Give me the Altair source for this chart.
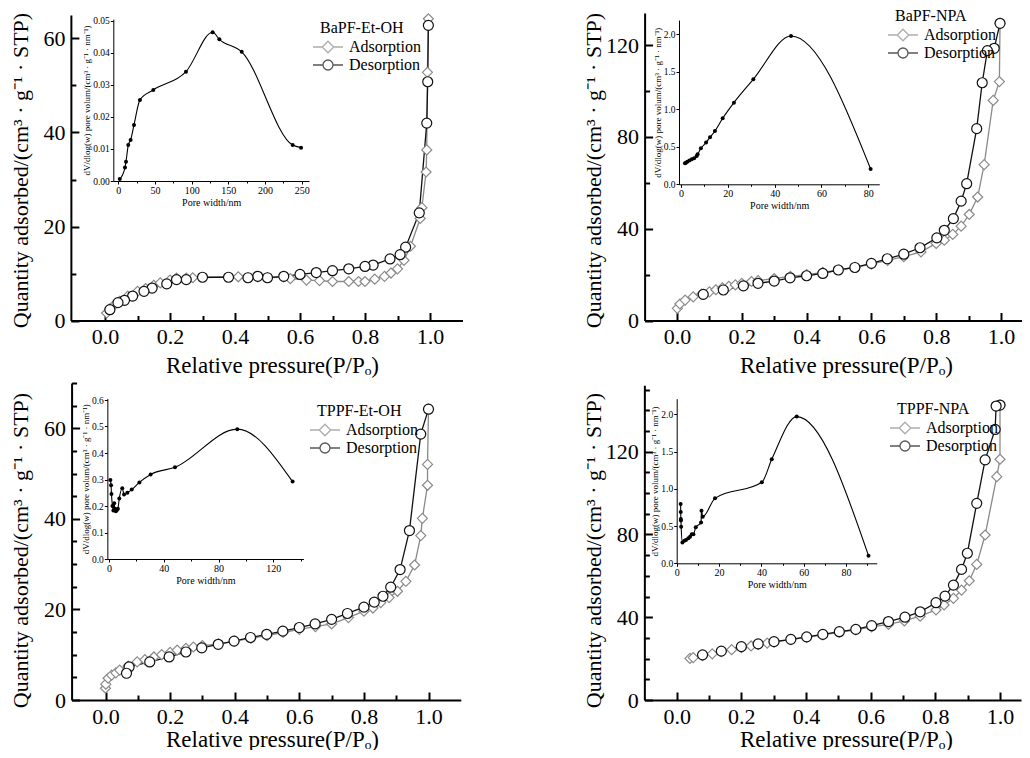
import altair as alt
import pandas as pd

FONT = "Liberation Serif"
SERIES = ["Adsorption", "Desorption"]
NAMES = ["BaPF-Et-OH", "BaPF-NPA", "TPPF-Et-OH", "TPPF-NPA"]
X_TITLE = "Relative pressure(P/Pₒ)"
Y_TITLE = "Quantity adsorbed/(cm³ · g⁻¹ · STP)"
IX_TITLE = "Pore width/nm"
IY_TITLE = "dV/dlog(w) pore volum/(cm³ · g⁻¹ · nm⁻¹)"

X_TICKS = [0.0, 0.1, 0.2, 0.3, 0.4, 0.5, 0.6, 0.7, 0.8, 0.9, 1.0]
X_LABELS = [0.0, 0.2, 0.4, 0.6, 0.8, 1.0]
Y_TICKS_1 = [0, 10, 20, 30, 40, 50, 60]
Y_TICKS_2 = [0, 20, 40, 60, 80, 100, 120]
Y_TICKS_3 = [0, 5, 10, 15, 20, 25, 30, 35, 40, 45, 50, 55, 60, 65, 70]
Y_TICKS_4 = [0, 10, 20, 30, 40, 50, 60, 70, 80, 90, 100, 110, 120, 130, 140, 150]
Y_LABELS_A = [0, 20, 40, 60]
Y_LABELS_B = [0, 40, 80, 120]

# ---------------- BaPF-Et-OH ----------------
A1_P = [0.005, 0.015, 0.03, 0.045, 0.07, 0.10, 0.125, 0.15, 0.17, 0.20, 0.22, 0.25, 0.27, 0.41, 0.44,
        0.47, 0.50, 0.55, 0.57, 0.62, 0.66, 0.70, 0.75, 0.78, 0.80, 0.83, 0.86, 0.88, 0.90, 0.92,
        0.94, 0.97, 0.975, 0.988, 0.99, 0.992, 0.995]
A1_Q = [1.6, 2.5, 3.4, 4.1, 5.2, 6.2, 6.8, 7.5, 8.0, 8.6, 9.0, 9.0, 9.1, 9.3, 9.1,
        9.3, 9.1, 9.3, 8.9, 8.6, 8.5, 8.3, 8.3, 8.3, 8.3, 8.8, 9.4, 10.1, 11.0, 12.8,
        15.8, 21.7, 24.0, 31.6, 36.3, 52.8, 64.2]
D1_P = [0.995, 0.993, 0.99, 0.967, 0.925, 0.908, 0.877, 0.825, 0.80, 0.75, 0.70, 0.65, 0.60, 0.55,
        0.50, 0.47, 0.44, 0.38, 0.30, 0.25, 0.22, 0.19, 0.145, 0.12, 0.085, 0.06, 0.04, 0.015]
D1_Q = [62.8, 50.8, 42.0, 22.9, 15.6, 14.0, 13.1, 11.8, 11.5, 11.0, 10.6, 10.2, 9.8, 9.4,
        9.1, 9.4, 9.1, 9.2, 9.2, 8.7, 8.7, 7.8, 6.9, 6.2, 5.2, 4.3, 3.8, 2.3]
W1 = [2.0, 9.1, 10.5, 13.6, 16.8, 21.4, 29.5, 47.7, 92.3, 128.6, 137.7, 168.2, 237.7, 249.1]
V1 = [0.0006, 0.0042, 0.006, 0.0112, 0.0128, 0.0175, 0.0253, 0.0284, 0.0341, 0.0464, 0.0442,
      0.0403, 0.0112, 0.0104]

# ---------------- BaPF-NPA ----------------
A2_P = [0.001, 0.009, 0.025, 0.05, 0.076, 0.10, 0.12, 0.14, 0.16, 0.18, 0.20, 0.23, 0.25, 0.30, 0.35,
        0.40, 0.45, 0.50, 0.55, 0.60, 0.65, 0.70, 0.753, 0.80, 0.825, 0.851, 0.877, 0.902, 0.928,
        0.948, 0.976, 0.995, 0.997]
A2_Q = [5.3, 7.2, 8.9, 10.3, 11.5, 12.5, 13.4, 14.2, 14.9, 15.5, 16.2, 17.0, 17.4, 18.3, 19.2,
        20.0, 21.0, 22.1, 23.2, 24.6, 26.2, 27.8, 29.9, 33.6, 35.0, 37.5, 41.1, 46.2, 53.8,
        67.9, 95.9, 104.1, 129.5]
D2_P = [0.997, 0.979, 0.958, 0.942, 0.925, 0.894, 0.877, 0.853, 0.825, 0.802, 0.75, 0.70, 0.649,
        0.60, 0.549, 0.498, 0.45, 0.40, 0.349, 0.30, 0.25, 0.205, 0.143, 0.081]
D2_Q = [129.5, 118.6, 117.6, 103.6, 83.6, 59.6, 52.0, 44.4, 39.3, 36.0, 31.7, 28.9, 26.9,
        24.9, 23.1, 22.0, 20.5, 19.5, 18.6, 17.2, 16.2, 15.1, 13.3, 11.4]
W2 = [1.7, 2.1, 2.7, 3.6, 4.6, 5.6, 6.7, 7.1, 8.5, 10.7, 12.4, 14.5, 17.8, 22.6, 30.9, 47.0, 81.0]
V2 = [0.28, 0.289, 0.302, 0.316, 0.333, 0.347, 0.378, 0.40, 0.48, 0.556, 0.627, 0.711, 0.88,
      1.089, 1.40, 1.978, 0.204]

# ---------------- TPPF-Et-OH ----------------
A3_P = [0.0, 0.001, 0.008, 0.019, 0.032, 0.044, 0.07, 0.098, 0.122, 0.15, 0.174, 0.20, 0.222, 0.249,
        0.272, 0.30, 0.35, 0.40, 0.45, 0.50, 0.55, 0.60, 0.65, 0.70, 0.752, 0.80, 0.828, 0.852,
        0.878, 0.904, 0.93, 0.957, 0.976, 0.981, 0.997, 0.997, 1.0]
A3_Q = [2.6, 3.5, 4.8, 5.5, 6.0, 6.6, 7.5, 8.4, 8.9, 9.5, 10.0, 10.5, 11.0, 11.4,
        11.7, 12.0, 12.4, 13.0, 13.6, 14.2, 14.9, 15.6, 16.2, 16.8, 18.2, 19.6, 20.3, 21.5,
        22.6, 24.0, 26.2, 29.8, 36.3, 40.1, 47.4, 52.0, 64.2]
D3_P = [1.0, 0.976, 0.941, 0.912, 0.883, 0.859, 0.832, 0.80, 0.749, 0.70, 0.649, 0.60, 0.549,
        0.499, 0.449, 0.398, 0.349, 0.298, 0.249, 0.197, 0.137, 0.073, 0.065]
D3_Q = [64.2, 58.7, 37.4, 28.8, 24.9, 22.9, 21.6, 20.5, 19.1, 17.8, 16.8, 16.0, 15.2,
        14.5, 13.8, 13.0, 12.3, 11.5, 10.6, 9.5, 8.4, 7.3, 5.9]
W3 = [1.0, 1.5, 1.8, 2.5, 3.2, 3.8, 4.3, 5.0, 5.8, 6.5, 7.5, 9.7, 11.0, 13.4, 16.6, 22.2, 30.4,
      48.2, 93.7, 134.1]
V3 = [0.298, 0.278, 0.245, 0.20, 0.183, 0.21, 0.19, 0.18, 0.185, 0.19, 0.228, 0.267, 0.243, 0.25,
      0.262, 0.289, 0.319, 0.346, 0.49, 0.292]

# ---------------- TPPF-NPA ----------------
A4_P = [0.041, 0.051, 0.08, 0.11, 0.138, 0.17, 0.20, 0.23, 0.252, 0.28, 0.301, 0.353, 0.402, 0.452,
        0.503, 0.554, 0.603, 0.655, 0.704, 0.753, 0.802, 0.827, 0.856, 0.881, 0.905, 0.928, 0.954,
        0.99, 1.0, 1.0]
A4_Q = [20.1, 20.5, 21.4, 22.3, 23.3, 24.3, 25.3, 26.1, 26.7, 27.5, 28.0, 29.2, 30.3, 31.5,
        32.7, 33.9, 35.3, 36.5, 38.2, 40.5, 43.5, 45.9, 49.1, 53.1, 57.6, 65.5, 79.7,
        107.9, 116.3, 142.5]
D4_P = [1.0, 0.988, 0.985, 0.954, 0.928, 0.899, 0.881, 0.856, 0.83, 0.802, 0.753, 0.706, 0.655,
        0.603, 0.554, 0.503, 0.452, 0.402, 0.353, 0.301, 0.252, 0.20, 0.138, 0.08]
D4_Q = [142.5, 142.0, 130.7, 116.0, 95.0, 70.9, 63.1, 55.5, 50.2, 47.0, 42.6, 40.0, 37.9,
        35.9, 34.1, 33.0, 31.7, 30.5, 29.3, 28.2, 27.1, 25.8, 23.6, 21.8]
W4 = [1.85, 1.9, 1.95, 2.0, 2.1, 2.7, 3.6, 4.4, 5.5, 6.3, 7.1, 7.9, 9.0, 11.5, 11.7, 12.3, 18.1,
      40.2, 44.9, 56.7, 90.6]
V4 = [0.796, 0.69, 0.595, 0.573, 0.49, 0.28, 0.304, 0.313, 0.336, 0.358, 0.39, 0.39, 0.483, 0.546,
      0.707, 0.626, 0.872, 1.087, 1.396, 1.969, 0.103]

ISO = [(A1_P, A1_Q, D1_P, D1_Q), (A2_P, A2_Q, D2_P, D2_Q),
       (A3_P, A3_Q, D3_P, D3_Q), (A4_P, A4_Q, D4_P, D4_Q)]
PSD = [(W1, V1), (W2, V2), (W3, V3), (W4, V4)]

# ---------------- layout (page pixels) ----------------
W, H, M = 1014, 742, 8
GRAY = "#8a8a8a"
ADS_PATH = "M-3,0L-1.15,0M1.15,0L3,0M0,-1.15L1.15,0L0,1.15L-1.15,0Z"
DES_PATH = "M-3,0L-1,0M1,0L3,0M-1,0A1,1,0,1,0,1,0A1,1,0,1,0,-1,0Z"

MAIN = [
    dict(x0=105.0, kx=325.0, xd=[-0.105, 1.10], y0=320.5, ky=4.7, yd=[0, 65], yt=Y_TICKS_1,
         yl=Y_LABELS_A, ymaj=20, tx=272, tyb=372, ycx=20, ycy=170, lx=320, ly=20),
    dict(x0=677.0, kx=324.0, xd=[-0.1, 1.065], y0=320.5, ky=2.295, yd=[0, 134], yt=Y_TICKS_2,
         yl=Y_LABELS_B, ymaj=40, tx=846, tyb=372, ycx=593, ycy=170, lx=895, ly=8),
    dict(x0=105.5, kx=323.0, xd=[-0.105, 1.10], y0=700.0, ky=4.53, yd=[0, 70], yt=Y_TICKS_3,
         yl=Y_LABELS_A, ymaj=20, tx=272, tyb=746, ycx=20, ycy=550, lx=317, ly=403),
    dict(x0=676.7, kx=323.3, xd=[-0.1, 1.065], y0=700.0, ky=2.07, yd=[0, 152], yt=Y_TICKS_4,
         yl=Y_LABELS_B, ymaj=40, tx=846, tyb=746, ycx=593, ycy=550, lx=897, ly=401),
]
INSET = [
    dict(x0=118.3, kx=0.7336, xd=[-6.8, 260], y0=181.0, ky=3206.0, yd=[0, 0.0505],
         xt=[0, 25, 50, 75, 100, 125, 150, 175, 200, 225, 250], xmaj=50,
         yt=[0, 0.01, 0.02, 0.03, 0.04, 0.05], yfmt=".2f"),
    dict(x0=681.0, kx=2.341, xd=[-0.85, 84.7], y0=184.3, ky=75.0, yd=[0, 2.19],
         xt=[0, 10, 20, 30, 40, 50, 60, 70, 80], xmaj=20, yt=[0, 0.5, 1.0, 1.5, 2.0], yfmt=".1f"),
    dict(x0=109.0, kx=1.369, xd=[-1.2, 142], y0=559.0, ky=265.0, yd=[0, 0.606],
         xt=[0, 20, 40, 60, 80, 100, 120, 140], xmaj=40,
         yt=[0, 0.1, 0.2, 0.3, 0.4, 0.5, 0.6], yfmt=".1f"),
    dict(x0=676.7, kx=2.117, xd=[0, 94.5], y0=563.3, ky=74.5, yd=[0, 2.21],
         xt=[0, 10, 20, 30, 40, 50, 60, 70, 80, 90], xmaj=20, yt=[0, 0.5, 1.0, 1.5, 2.0], yfmt=".1f"),
]


def xr(c):
    return [c["x0"] + c["kx"] * c["xd"][0] - M, c["x0"] + c["kx"] * c["xd"][1] - M]


def yr(c):
    return [c["y0"] - c["ky"] * c["yd"][0] - M, c["y0"] - c["ky"] * c["yd"][1] - M]


def cond(test, a, b):
    return {"condition": {"test": test, "value": a}, "value": b}


def panel(i):
    c, ins = MAIN[i], INSET[i]
    ap, aq, dp, dq = ISO[i]
    df = pd.DataFrame({
        "p": list(ap) + list(dp),
        "q": list(aq) + list(dq),
        "series": [SERIES[0]] * len(ap) + [SERIES[1]] * len(dp),
        "idx": list(range(len(ap))) + list(range(len(dp))),
    })
    xs = alt.Scale(domain=c["xd"], range=xr(c), nice=False, zero=False)
    ys = alt.Scale(domain=c["yd"], range=yr(c), nice=False, zero=False)
    ax_y = yr(c)[0]
    ax_x = xr(c)[0]

    # inward ticks
    xt_axis = alt.Axis(orient="top", offset=-ax_y, values=X_TICKS, labels=False, domain=False,
                       grid=False, title=None, tickWidth=2, tickColor="black",
                       tickSize=cond("round(datum.value*10) % 2 == 0", 8, 5))
    yt_axis = alt.Axis(orient="right", offset=ax_x - W, values=c["yt"], labels=False, domain=False,
                       grid=False, title=None, tickWidth=2, tickColor="black",
                       tickSize=cond("datum.value %% %d == 0" % c["ymaj"], 8, 5))
    col = alt.Color("series:N", scale=alt.Scale(domain=SERIES, range=[GRAY, "#111111"]), legend=None)
    shp = alt.Shape("series:N", scale=alt.Scale(domain=SERIES, range=["diamond", "circle"]), legend=None)
    base = alt.Chart(df)
    xenc = alt.X("p:Q", scale=xs, axis=xt_axis)
    yenc = alt.Y("q:Q", scale=ys, axis=yt_axis)
    line = base.mark_line(strokeWidth=1.3).encode(x=xenc, y=yenc, color=col, order="idx:Q")
    pts = base.mark_point(filled=False, fill="white", size=100, strokeWidth=1.2, opacity=1).encode(
        x=xenc, y=yenc, color=col, shape=shp)
    main = alt.layer(line, pts)

    # labelled axes + legend (no marks)
    bx_axis = alt.Axis(orient="bottom", offset=ax_y - H, values=X_LABELS, format=".1f", ticks=False,
                       tickSize=0, domain=True, domainWidth=2, domainColor="black", grid=False,
                       labelFont=FONT, labelFontSize=22, labelColor="black", labelPadding=6,
                       labelFlush=False, labelOverlap=False,
                       title=X_TITLE, titleFont=FONT, titleFontSize=23, titleFontWeight="normal",
                       titleColor="black", titleX=c["tx"] - M, titleY=c["tyb"] - (ax_y + M),
                       titleBaseline="alphabetic", titleAlign="center")
    by_axis = alt.Axis(orient="left", offset=-ax_x, values=c["yl"], format="d", ticks=False,
                       tickSize=0, domain=True, domainWidth=2, domainColor="black", grid=False,
                       labelFont=FONT, labelFontSize=22, labelColor="black", labelPadding=6,
                       labelFlush=False, labelOverlap=False,
                       title=Y_TITLE, titleFont=FONT, titleFontSize=22, titleFontWeight="normal",
                       titleColor="black", titleAngle=270, titleX=c["ycx"] - (ax_x + M),
                       titleY=c["ycy"] - M, titleBaseline="middle", titleAlign="center")
    leg = dict(orient="none", legendX=c["lx"] - M, legendY=c["ly"] - M, title=NAMES[i],
               titleFont=FONT, titleFontSize=16, titleFontWeight="normal", titleColor="black",
               labelFont=FONT, labelFontSize=16, labelColor="black", symbolSize=100,
               symbolStrokeWidth=1.3, labelOffset=13, rowPadding=1, titlePadding=3, padding=0)
    bcol = alt.Color("series:N", scale=alt.Scale(domain=SERIES, range=[GRAY, "#111111"]),
                     legend=alt.Legend(**leg))
    bshp = alt.Shape("series:N", scale=alt.Scale(domain=SERIES, range=[ADS_PATH, DES_PATH]),
                     legend=alt.Legend(**leg))
    frame = base.mark_point(filled=False).encode(
        x=alt.X("p:Q", scale=xs, axis=bx_axis), y=alt.Y("q:Q", scale=ys, axis=by_axis),
        color=bcol, shape=bshp).transform_filter("false")

    # inset
    w, v = PSD[i]
    dfi = pd.DataFrame({"w": w, "dv": v, "idx": list(range(len(w)))})
    ixs = alt.Scale(domain=ins["xd"], range=xr(ins), nice=False, zero=False)
    iys = alt.Scale(domain=ins["yd"], range=yr(ins), nice=False, zero=False)
    iax_y = yr(ins)[0]
    iax_x = xr(ins)[0]
    ix_axis = alt.Axis(orient="bottom", offset=iax_y - H, values=ins["xt"], grid=False,
                       labelExpr="datum.value %% %d == 0 ? datum.label : ''" % ins["xmaj"],
                       tickSize=cond("datum.value %% %d == 0" % ins["xmaj"], 3, 2),
                       tickWidth=1, tickColor="black", domainColor="black", domainWidth=1,
                       labelFont=FONT, labelFontSize=10, labelColor="black", labelPadding=1,
                       labelFlush=False, labelOverlap=False,
                       title=IX_TITLE, titleFont=FONT, titleFontSize=10, titleFontWeight="normal",
                       titleColor="black", titlePadding=2)
    iy_axis = alt.Axis(orient="left", offset=-iax_x, values=ins["yt"], format=ins["yfmt"], grid=False,
                       tickSize=3, tickWidth=1, tickColor="black", domainColor="black", domainWidth=1,
                       labelFont=FONT, labelFontSize=9.5, labelColor="black", labelPadding=1,
                       labelFlush=False, labelOverlap=False,
                       title=IY_TITLE, titleFont=FONT, titleFontSize=9, titleFontWeight="normal",
                       titleColor="black", titlePadding=1)
    ibase = alt.Chart(dfi)
    ixe = alt.X("w:Q", scale=ixs, axis=ix_axis)
    iye = alt.Y("dv:Q", scale=iys, axis=iy_axis)
    iline = ibase.mark_line(color="black", strokeWidth=1.1, interpolate="monotone").encode(
        x=ixe, y=iye, order="idx:Q")
    ipts = ibase.mark_circle(color="black", size=16, opacity=1).encode(x=ixe, y=iye)
    inset = alt.layer(iline, ipts)
    return [main, frame, inset]


layers = []
for k in range(4):
    layers.extend(panel(k))

chart = alt.layer(*layers).resolve_scale(
    x="independent", y="independent", color="independent", shape="independent"
).properties(
    width=W, height=H, padding=0, autosize=alt.AutoSizeParams(type="none")
).configure(
    font=FONT
).configure_axis(
    labelFont=FONT, titleFont=FONT
).configure_legend(
    labelFont=FONT, titleFont=FONT
).configure_view(stroke=None)

chart.save("out.html", embed_options={"renderer": "svg", "actions": False})
